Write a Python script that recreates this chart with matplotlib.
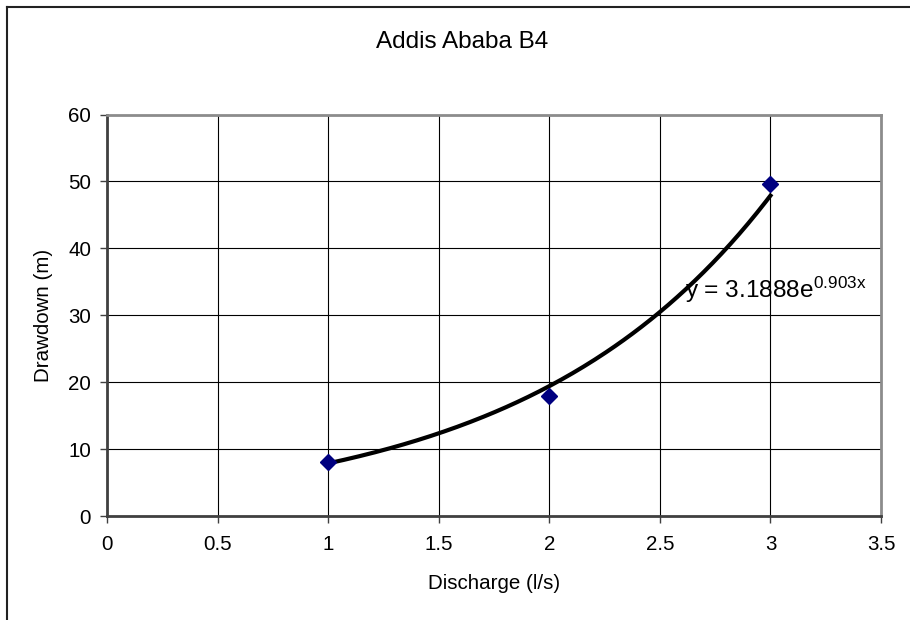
#!/usr/bin/env python
import numpy as np
from matplotlib import rcParams

rcParams['font.family'] = 'sans-serif'
rcParams['font.sans-serif'] = ['Liberation Sans', 'DejaVu Sans']
rcParams['mathtext.fontset'] = 'custom'
rcParams['mathtext.rm'] = 'Liberation Sans'

import matplotlib.pyplot as plt
from matplotlib.lines import Line2D

# data
discharge = [1, 2, 3]
drawdown = [8.1, 18.0, 49.6]

# exponential trendline as printed on the chart
trend_a = 3.1888
trend_b = 0.903

xticks = [0, 0.5, 1, 1.5, 2, 2.5, 3, 3.5]
yticks = [0, 10, 20, 30, 40, 50, 60]


def main():
    fig = plt.figure(figsize=(9.1, 6.2), dpi=100)
    ax = fig.add_axes([107 / 910, 104 / 620, 774 / 910, 401.5 / 620])

    # chart area border (only top and left visible in the original)
    fig.add_artist(Line2D([7 / 910, 7 / 910], [0, 1 - 7 / 620], color='#222222', lw=1.5))
    fig.add_artist(Line2D([7 / 910, 1], [1 - 7 / 620, 1 - 7 / 620], color='#222222', lw=1.5))

    ax.set_xlim(0, 3.5)
    ax.set_ylim(0, 60)
    ax.set_xticks(xticks)
    ax.set_yticks(yticks)
    ax.set_xticklabels([('%g' % t) for t in xticks])
    ax.grid(True, color='black', lw=0.8)
    ax.set_axisbelow(True)

    for side in ['top', 'right']:
        ax.spines[side].set_color('#8c8c8c')
        ax.spines[side].set_linewidth(2)
    for side in ['left', 'bottom']:
        ax.spines[side].set_color('#404040')
        ax.spines[side].set_linewidth(2)

    ax.tick_params(axis='both', direction='out', length=5, width=1, color='#404040', labelsize=14.8)
    ax.tick_params(axis='x', pad=9)
    ax.tick_params(axis='y', pad=6.5)

    xt = np.linspace(min(discharge), max(discharge), 200)
    ax.plot(xt, trend_a * np.exp(trend_b * xt), color='black', lw=3, zorder=3)
    ax.plot(discharge, drawdown, linestyle='none', marker='D', markersize=8,
            color='#000080', zorder=4)

    ax.text(2.615, 32.6, r'y = 3.1888e$^{\mathregular{0.903x}}$', fontsize=17.6,
            va='baseline', ha='left', zorder=5)

    ax.set_xlabel('Discharge (l/s)', fontsize=14.8)
    ax.set_ylabel('Drawdown (m)', fontsize=14.8)
    ax.xaxis.label.set_va('baseline')
    ax.yaxis.label.set_va('center')
    ax.xaxis.set_label_coords(0.5, (516 - 589) / 401.5)
    ax.yaxis.set_label_coords((44 - 107) / 774, 0.5)

    fig.text(462 / 910, 1 - 48 / 620, 'Addis Ababa B4', fontsize=17.5, ha='center', va='baseline')

    fig.savefig('out.png', dpi=100)


if __name__ == '__main__':
    main()
